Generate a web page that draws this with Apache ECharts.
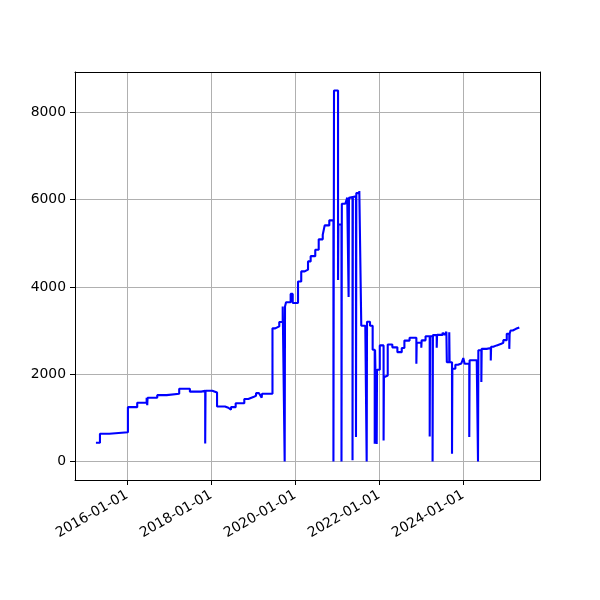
<!DOCTYPE html>
<html><head><meta charset="utf-8">
<script src="https://cdn.jsdelivr.net/npm/echarts@6/dist/echarts.min.js"></script>
<style>html,body{margin:0;padding:0;background:#fff}#c{width:600px;height:600px}</style>
</head><body><div id="c"></div>
<script>
const dates = [
'2015-04-06','2015-05-11','2015-07-31','2016-01-09','2016-03-30','2016-06-20','2016-06-25','2016-06-28',
'2016-09-20','2016-12-11','2017-03-30','2017-07-01','2017-10-08','2017-11-11','2017-11-14','2018-01-12',
'2018-02-22','2018-05-02','2018-05-31','2018-06-23','2018-08-03','2018-10-17','2018-11-21','2019-01-03',
'2019-01-27','2019-02-22','2019-03-11','2019-03-17','2019-03-20','2019-06-19','2019-07-13','2019-08-17',
'2019-09-16','2019-10-03','2019-10-06','2019-10-15','2019-11-24','2019-12-12','2020-01-27','2020-02-24',
'2020-03-25','2020-04-23','2020-05-16','2020-06-25','2020-07-25','2020-08-29','2020-09-15','2020-10-25',
'2020-11-30','2020-12-05','2021-01-09','2021-01-12','2021-02-08','2021-02-11','2021-03-13','2021-03-30',
'2021-04-11','2021-04-14','2021-04-29','2021-05-15','2021-05-18','2021-06-03','2021-06-14','2021-06-17',
'2021-07-13','2021-07-30','2021-09-03','2021-09-15','2021-09-18','2021-10-14','2021-11-06','2021-11-24',
'2021-11-27','2021-12-11','2021-12-14','2022-01-07','2022-02-09','2022-02-12','2022-02-28','2022-03-17',
'2022-04-26','2022-06-09','2022-07-17','2022-08-09','2022-09-23','2022-11-21','2022-11-24','2023-01-03',
'2023-01-06','2023-02-09','2023-03-17','2023-03-20','2023-04-11','2023-04-14','2023-05-17','2023-05-20',
'2023-07-07','2023-07-24','2023-08-09','2023-08-13','2023-09-03','2023-09-06','2023-09-27','2023-09-30',
'2023-10-26','2023-11-18','2023-12-17','2024-01-03','2024-01-15','2024-02-24','2024-02-27','2024-04-29',
'2024-05-10','2024-05-13','2024-06-08','2024-06-11','2024-07-25','2024-08-29','2024-09-01','2024-09-20',
'2024-10-20','2024-11-23','2024-12-16','2025-01-15','2025-02-06','2025-02-09','2025-02-17','2025-03-08',
'2025-04-05','2025-05-04'
];
const values = [
430,635,670,1245,1345,1460,1290,1460,
1520,1550,1665,1600,1620,410,1620,1580,
1260,1230,1185,1245,1335,1430,1475,1505,
1565,1520,1580,1460,1550,3050,3095,3195,
3550,0,3550,3650,3840,3630,4125,4355,
4395,4585,4705,4850,5090,5195,5410,5525,
0,8500,4160,5430,0,5905,5935,6045,
3770,6045,6060,30,6060,6075,560,6150,
6200,3110,3080,0,3200,3110,2560,405,
2560,400,2100,2660,480,1930,1970,2680,
2615,2505,2600,2770,2835,2240,2720,2605,
2775,2870,570,2870,0,2895,2605,2900,
2950,2900,2970,2275,2960,2275,175,2125,
2215,2245,2290,2370,2240,560,2320,2275,
0,2550,1820,2580,2600,2315,2630,2660,
2690,2720,2780,2925,2580,2925,3000,3040,
3070,3070
];
const xRange = ['2014-10-06', '2025-10-31'];
const yRange = [-425, 8925];
const yStep = 2000;
const xStepDays = 730.5;

const DAY = 86400000;
const ts = s => Date.parse(s + 'T00:00:00Z');
const seriesData = dates.map((d, i) => [ts(d), values[i]]);
const pad = n => (n < 10 ? '0' : '') + n;
const fmtDate = v => {
  const dd = new Date(Math.floor(v / DAY) * DAY);
  return dd.getUTCFullYear() + '-' + pad(dd.getUTCMonth() + 1) + '-' + pad(dd.getUTCDate());
};

const font = 'DejaVu Sans';
const chart = echarts.init(document.getElementById('c'), null, {renderer: 'canvas'});
chart.setOption({
  animation: false,
  backgroundColor: '#ffffff',
  grid: {left: 75, right: 60, top: 72, bottom: 120, containLabel: false},
  xAxis: [{
    type: 'value', min: ts(xRange[0]), max: ts(xRange[1]),
    minInterval: xStepDays * DAY, maxInterval: xStepDays * DAY,
    axisLine: {show: true, onZero: false, lineStyle: {color: '#000', width: 1}},
    axisTick: {show: true, inside: false, length: 5, lineStyle: {color: '#000', width: 1}},
    axisLabel: {show: true, rotate: 30, margin: 14, color: '#000', fontFamily: font, fontSize: 13.9,
      showMinLabel: false, showMaxLabel: false, formatter: fmtDate},
    splitLine: {show: true, showMinLine: false, showMaxLine: false, lineStyle: {color: '#b0b0b0', width: 1}}
  }, {
    type: 'value', position: 'top', min: ts(xRange[0]), max: ts(xRange[1]),
    axisLine: {show: true, onZero: false, lineStyle: {color: '#000', width: 1}},
    axisTick: {show: false}, axisLabel: {show: false}, splitLine: {show: false}
  }],
  yAxis: [{
    type: 'value', min: yRange[0], max: yRange[1],
    minInterval: yStep, maxInterval: yStep,
    axisLine: {show: true, onZero: false, lineStyle: {color: '#000', width: 1}},
    axisTick: {show: true, inside: false, length: 5, lineStyle: {color: '#000', width: 1}},
    axisLabel: {show: true, margin: 9, color: '#000', fontFamily: font, fontSize: 13.9,
      showMinLabel: false, showMaxLabel: false, formatter: v => String(v)},
    splitLine: {show: true, showMinLine: false, showMaxLine: false, lineStyle: {color: '#b0b0b0', width: 1}}
  }, {
    type: 'value', position: 'right', min: yRange[0], max: yRange[1],
    axisLine: {show: true, onZero: false, lineStyle: {color: '#000', width: 1}},
    axisTick: {show: false}, axisLabel: {show: false}, splitLine: {show: false}
  }],
  series: [{
    type: 'line', step: 'end', data: seriesData, xAxisIndex: 0, yAxisIndex: 0,
    showSymbol: false, symbol: 'none', clip: true,
    lineStyle: {color: '#0000ff', width: 2.1}, itemStyle: {color: '#0000ff'}
  }]
});
</script>
</body></html>
